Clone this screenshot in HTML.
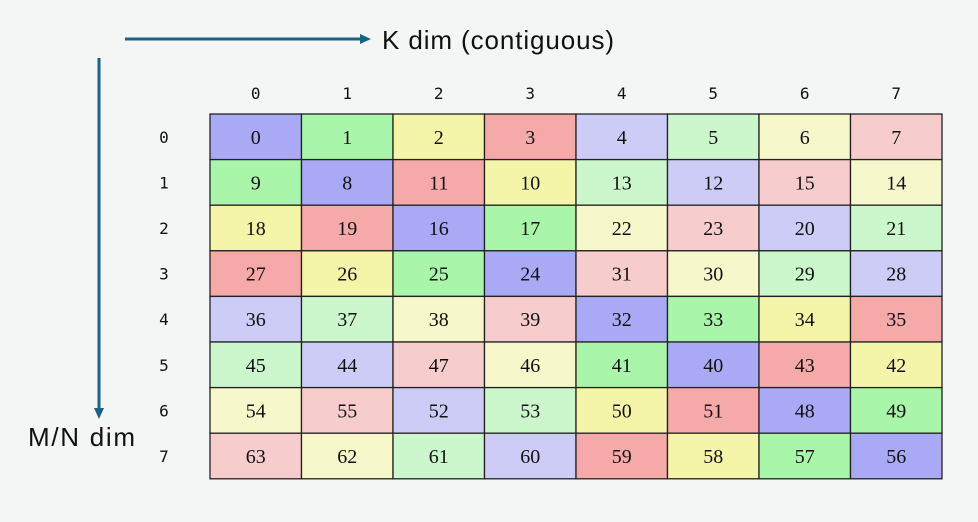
<!DOCTYPE html>
<html><head><meta charset="utf-8"><style>
html,body{margin:0;padding:0;background:#f4f5f5;}
</style></head><body>
<svg width="978" height="517" xmlns="http://www.w3.org/2000/svg">
<rect width="978" height="517" fill="#f4f5f5"/>
<line x1="125" y1="39" x2="362" y2="39" stroke="#1b6384" stroke-width="3"/>
<polygon points="360,34 371,39 360,44" fill="#1b6384"/>
<text x="382" y="49" font-family="Liberation Sans, sans-serif" font-size="26" textLength="232" fill="#111">K dim (contiguous)</text>
<line x1="99" y1="58" x2="99" y2="410" stroke="#1b6384" stroke-width="3"/>
<polygon points="94,408 99,419 104,408" fill="#1b6384"/>
<text x="28" y="446" font-family="Liberation Sans, sans-serif" font-size="26" textLength="107" fill="#111">M/N dim</text>
<g id="g"></g>
</svg>
<script>
var cols=["#a9a9f5","#a9f5a9","#f5f5a9","#f5a9a9","#ccccf7","#ccf7cc","#f7f7cc","#f7cccc"];
var g=document.getElementById("g"),s="";
var x0=210,y0=114,cw=91.5,rh=45.6;
for(var c=0;c<8;c++)s+='<text x="'+(x0+cw*c+cw/2)+'" y="99" text-anchor="middle" font-family="DejaVu Sans Mono, monospace" font-size="16" fill="#111">'+c+'</text>';
for(var r=0;r<8;r++){
 s+='<text x="164" y="'+(y0+rh*r+rh/2+6)+'" text-anchor="middle" font-family="DejaVu Sans Mono, monospace" font-size="16" fill="#111">'+r+'</text>';
 for(var c=0;c<8;c++){var v=r*8+(c^r);
  s+='<rect x="'+(x0+cw*c)+'" y="'+(y0+rh*r)+'" width="'+cw+'" height="'+rh+'" fill="'+cols[v%8]+'" stroke="#222" stroke-width="1.3"/>';
  s+='<text x="'+(x0+cw*c+cw/2)+'" y="'+(y0+rh*r+rh/2+7)+'" text-anchor="middle" font-family="Liberation Serif, serif" font-size="20" fill="#111">'+v+'</text>';}
}
g.innerHTML=s;
</script>
</body></html>
